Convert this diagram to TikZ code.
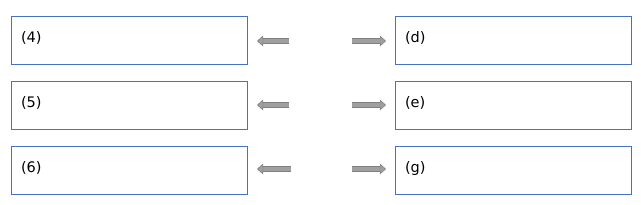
\documentclass[tikz,border=0pt]{standalone}
\usepackage{fontspec}
\setmainfont{DejaVu Sans}
\usepackage{xcolor}
\usepackage{tikz}
\usetikzlibrary{positioning,arrows.meta,calc}

\definecolor{boxblue}{HTML}{4472C4}
\definecolor{arrowfill}{HTML}{A0A0A0}
\definecolor{arrowedge}{HTML}{808080}

\begin{document}
\begin{tikzpicture}[
    x=1pt, y=-1pt,
    font=\fontsize{14.5}{17}\selectfont,
    box/.style={draw=boxblue, line width=1pt, rectangle,
        minimum width=236pt, minimum height=48pt, inner xsep=9.5pt, inner ysep=0pt,
        text width=217pt, align=left, text height=26.5pt, text depth=21.5pt},
    blk/.style={draw=arrowedge, line width=0.7pt, double=arrowfill, double distance=3.8pt,
        -{Triangle[length=6pt, width=10.5pt, fill=arrowfill]}, shorten >=9pt},
]
    \useasboundingbox (0,0) rectangle (641,205);

    % ---------- linke Spalte ----------
    \node[box] (b4) at (129.5,40.5) {(4)};
    \node[box, below=16pt of b4] (b5) {(5)};
    \node[box, below=16pt of b5] (b6) {(6)};

    % ---------- rechte Spalte ----------
    \node[box, right=147pt of b4] (bd) {(d)};
    \node[box, right=147pt of b5] (be) {(e)};
    \node[box, right=147pt of b6] (bg) {(g)};

    % ---------- Pfeile ----------
    \coordinate (t4) at (289,41);
    \coordinate (t5) at (289,105);
    \coordinate (t6) at (291,169);
    \coordinate (td) at (352,41);
    \coordinate (te) at (352,105);
    \coordinate (tg) at (352,169);
    \draw[blk] (t4) -- (t4 -| b4.east);
    \draw[blk] (t5) -- (t5 -| b5.east);
    \draw[blk] (t6) -- (t6 -| b6.east);
    \draw[blk] (td) -- (td -| bd.west);
    \draw[blk] (te) -- (te -| be.west);
    \draw[blk] (tg) -- (tg -| bg.west);
\end{tikzpicture}
\end{document}
